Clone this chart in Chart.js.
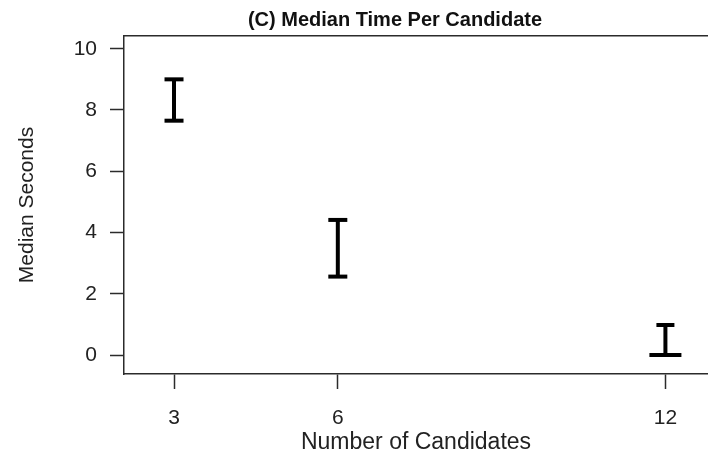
<!DOCTYPE html>
<html>
<head>
<meta charset="utf-8">
<script src="https://cdn.jsdelivr.net/npm/chart.js@4"></script>
<style>
  html, body { margin: 0; padding: 0; background: #fff; }
  #wrap { width: 708px; height: 456px; position: relative; }
  #title {
    position: absolute; left: 0; top: 7px; width: 790px; height: 24px;
    text-align: center; line-height: 24px;
    font-family: 'Liberation Sans', Arial, Helvetica, sans-serif;
    font-weight: bold; font-size: 20px; color: #111;
    white-space: nowrap;
  }
  #c { position: absolute; left: 0; top: 0; }
</style>
</head>
<body>
<div id="wrap">
  <canvas id="c" width="708" height="456"></canvas>
  <div id="title"></div>
</div>
<script>
// ---- data ----
const candidates = [3, 6, 12];
const lowerSeconds = [7.65, 2.56, 0];
const upperSeconds = [9.0, 4.41, 0.98];
const xTicks = [3, 6, 12];
const yTicks = [0, 2, 4, 6, 8, 10];

const titleText = '(C) Median Time Per Candidate';
const xTitle = 'Number of Candidates';
const yTitle = 'Median Seconds';

document.getElementById('title').textContent = titleText;

const FONT = "'Liberation Sans', Arial, Helvetica, sans-serif";
const INK = '#000';
const AXIS = '#2b2b2b';

const capRadius = [[9.5, 9.5], [9.5, 9.5], [16, 9]];

const datasets = candidates.map((c, i) => ({
  type: 'line',
  data: [{x: c, y: lowerSeconds[i]}, {x: c, y: upperSeconds[i]}],
  borderColor: INK,
  borderWidth: 4,
  pointStyle: 'line',
  pointRadius: capRadius[i],
  pointHoverRadius: capRadius[i],
  pointBorderWidth: 4,
  pointBorderColor: INK,
  fill: false,
  tension: 0
}));

const noPad = s => { s.paddingLeft = 0; s.paddingRight = 0; s.paddingTop = 0; s.paddingBottom = 0; };

new Chart(document.getElementById('c'), {
  type: 'line',
  data: { datasets },
  options: {
    responsive: false,
    animation: false,
    events: [],
    layout: { autoPadding: false, padding: { left: 0, right: 0, top: 36, bottom: 0 } },
    plugins: {
      legend: { display: false },
      tooltip: { enabled: false },
      title: { display: false }
    },
    scales: {
      x: {
        type: 'linear',
        position: 'bottom',
        min: 2.084,
        max: 12.78,
        afterBuildTicks: s => { s.ticks = xTicks.map(v => ({ value: v })); },
        afterFit: s => { s.height = 82; noPad(s); },
        grid: { display: true, drawOnChartArea: false, drawTicks: true, tickLength: 15, tickColor: AXIS, tickWidth: 1.5 },
        border: { display: true, color: AXIS, width: 1.5 },
        ticks: { color: '#222', padding: 17, font: { family: FONT, size: 21 }, maxRotation: 0 },
        title: {
          display: true, text: xTitle, color: '#222',
          font: { family: FONT, size: 23, lineHeight: 1.2 },
          padding: { top: 0, bottom: 0 }
        }
      },
      x2: {
        type: 'linear',
        position: 'top',
        min: 2.084,
        max: 12.78,
        afterFit: s => { s.height = 0; noPad(s); },
        grid: { display: true, drawOnChartArea: false, drawTicks: false },
        border: { display: true, color: AXIS, width: 1.5 },
        ticks: { display: false }
      },
      y: {
        type: 'linear',
        position: 'left',
        min: -0.62,
        max: 10.415,
        afterBuildTicks: s => { s.ticks = yTicks.map(v => ({ value: v })); },
        afterFit: s => { s.width = 124; noPad(s); },
        grid: { display: true, drawOnChartArea: false, drawTicks: true, tickLength: 14, tickColor: AXIS, tickWidth: 1.5 },
        border: { display: true, color: AXIS, width: 1.5 },
        ticks: { color: '#222', padding: 13, font: { family: FONT, size: 21 } },
        title: {
          display: true, text: yTitle, color: '#222',
          font: { family: FONT, size: 21, lineHeight: 1.2 },
          padding: { top: 15, bottom: 0 }
        }
      }
    }
  }
});
</script>
</body>
</html>
